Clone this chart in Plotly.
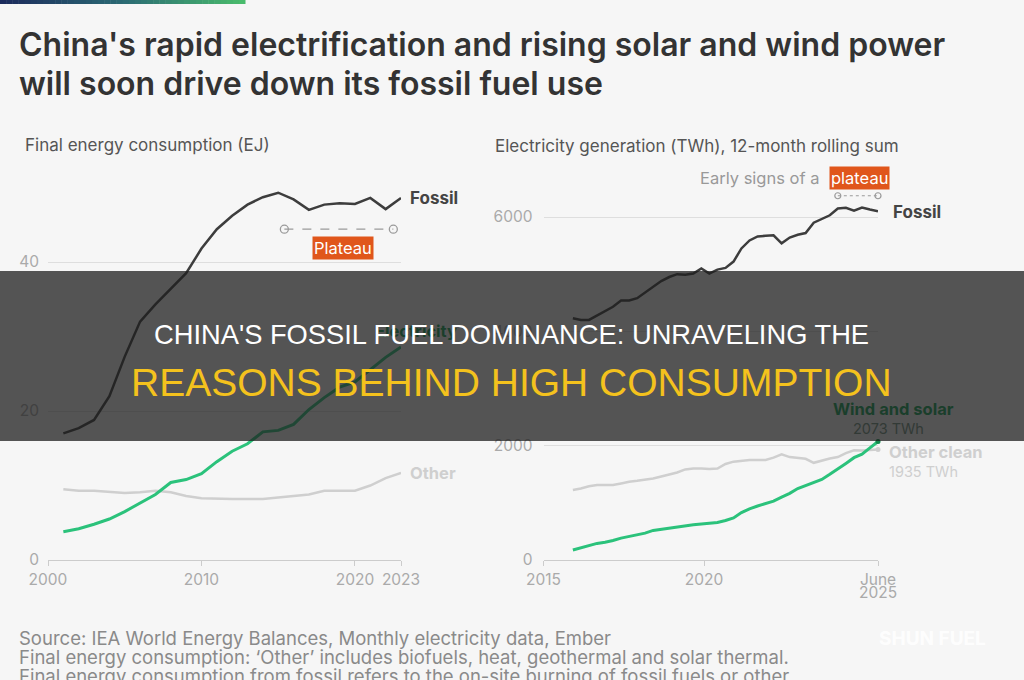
import plotly.graph_objects as go

W, H = 1024, 680
BG = "#f6f6f6"
FONT = "Inter"

# ---------------- Left panel: final energy consumption (EJ) ----------------
years = [2001, 2002, 2003, 2004, 2005, 2006, 2007, 2008, 2009, 2010, 2011, 2012,
         2013, 2014, 2015, 2016, 2017, 2018, 2019, 2020, 2021, 2022, 2023]
fossil_ej = [17.0, 17.7, 18.8, 22.0, 27.3, 32.0, 34.3, 36.4, 38.5, 41.8, 44.4, 46.2,
             47.7, 48.7, 49.3, 48.4, 47.0, 47.7, 47.9, 47.8, 48.6, 47.1, 48.6]
electricity_ej = [3.8, 4.2, 4.8, 5.5, 6.5, 7.6, 8.8, 10.4, 10.8, 11.6, 13.2, 14.6,
                  15.6, 17.2, 17.4, 18.2, 20.2, 21.8, 23.2, 23.9, 25.6, 27.2, 28.6]
other_ej = [9.5, 9.3, 9.3, 9.1, 9.0, 9.1, 9.3, 9.1, 8.6, 8.3, 8.2, 8.2,
            8.2, 8.2, 8.4, 8.6, 8.8, 9.3, 9.3, 9.3, 10.0, 11.0, 11.7]
left_xticks = [2000, 2010, 2020, 2023]
left_yticks = [0, 20, 40]
plateau_left_years = [2015.4, 2022.5]
plateau_left_level = 44.4

# ---------------- Right panel: electricity generation (TWh), 12-month rolling sum ----------------
months = ["2015-12-01",
          "2016-03-01", "2016-06-01", "2016-09-01", "2016-12-01",
          "2017-03-01", "2017-06-01", "2017-09-01", "2017-12-01",
          "2018-03-01", "2018-06-01", "2018-09-01", "2018-12-01",
          "2019-03-01", "2019-06-01", "2019-09-01", "2019-12-01",
          "2020-03-01", "2020-06-01", "2020-09-01", "2020-12-01",
          "2021-03-01", "2021-06-01", "2021-09-01", "2021-12-01",
          "2022-03-01", "2022-06-01", "2022-09-01", "2022-12-01",
          "2023-03-01", "2023-06-01", "2023-09-01", "2023-12-01",
          "2024-03-01", "2024-06-01", "2024-09-01", "2024-12-01",
          "2025-03-01", "2025-06-01"]
fossil_twh = [4230,
              4200, 4200, 4280, 4360,
              4430, 4540, 4540, 4580,
              4680, 4780, 4880, 4950,
              5000, 4990, 5010, 5100,
              5010, 5080, 5110, 5220,
              5450, 5590, 5660, 5670,
              5680, 5540, 5640, 5690,
              5720, 5900, 5970, 6030,
              6150, 6160, 6110, 6165,
              6130, 6100]
wind_solar_twh = [175,
                  215, 262, 290, 312,
                  340, 383, 415, 445,
                  470, 518, 540, 560,
                  575, 605, 618, 630,
                  645, 655, 690, 735,
                  830, 895, 945, 985,
                  1030, 1100, 1165, 1250,
                  1300, 1355, 1410, 1500,
                  1590, 1690, 1790, 1850,
                  1960, 2073]
other_clean_twh = [1224,
                   1250, 1290, 1312, 1312,
                   1312, 1340, 1370, 1385,
                   1400, 1425, 1460, 1490,
                   1530, 1585, 1600, 1600,
                   1590, 1600, 1680, 1720,
                   1740, 1750, 1750, 1750,
                   1790, 1850, 1800, 1790,
                   1770, 1700, 1740, 1775,
                   1800, 1870, 1920, 1915,
                   1925, 1935]
right_xticks = ["2015-01-01", "2020-01-01", "2025-06-01"]
right_xticklabels = ["2015", "2020", "June"]
right_yticks = [0, 2000, 4000, 6000]
plateau_right_months = ["2024-03-01", "2025-06-01"]
plateau_right_level = 6372

# ---------------- styling helpers ----------------
C_FOSSIL = "#3d3d3d"
C_GREEN = "#2bc27b"
C_LABEL_GREEN = "#0c9c52"
C_OTHER = "#cfcfcf"
C_TICK = "#aaaaaa"
C_GRID = "#dedede"
C_ORANGE = "#e0561b"
OVERLAY_RGB = (30, 30, 30)
OVERLAY_A = 0.75
LBL = 16.5


def px_x(p):
    return p / W


def px_y(p):
    return 1 - p / H


def blend(hexcol):
    h = hexcol.lstrip("#")
    r, g, b = int(h[0:2], 16), int(h[2:4], 16), int(h[4:6], 16)
    o = OVERLAY_RGB
    a = OVERLAY_A
    return "rgb(%d,%d,%d)" % (round(a * o[0] + (1 - a) * r),
                              round(a * o[1] + (1 - a) * g),
                              round(a * o[2] + (1 - a) * b))


fig = go.Figure()

# ---- left traces
fig.add_trace(go.Scatter(x=years, y=other_ej, mode="lines",
                         line=dict(color=C_OTHER, width=2.5), xaxis="x", yaxis="y"))
fig.add_trace(go.Scatter(x=years, y=electricity_ej, mode="lines",
                         line=dict(color=C_GREEN, width=3), xaxis="x", yaxis="y"))
fig.add_trace(go.Scatter(x=years, y=fossil_ej, mode="lines",
                         line=dict(color=C_FOSSIL, width=2.5), xaxis="x", yaxis="y"))
fig.add_trace(go.Scatter(x=plateau_left_years, y=[plateau_left_level] * 2, mode="lines+markers",
                         line=dict(color="#9a9a9a", width=1.2, dash="dash"),
                         marker=dict(symbol="circle-open", size=8, color="#9a9a9a",
                                     line=dict(width=1.3)),
                         xaxis="x", yaxis="y", cliponaxis=False))

# ---- right traces
fig.add_trace(go.Scatter(x=months, y=other_clean_twh, mode="lines",
                         line=dict(color=C_OTHER, width=2.5), xaxis="x2", yaxis="y2"))
fig.add_trace(go.Scatter(x=months, y=wind_solar_twh, mode="lines",
                         line=dict(color=C_GREEN, width=3), xaxis="x2", yaxis="y2"))
fig.add_trace(go.Scatter(x=months, y=fossil_twh, mode="lines",
                         line=dict(color=C_FOSSIL, width=2.5), xaxis="x2", yaxis="y2"))
fig.add_trace(go.Scatter(x=[months[-1], months[-1]], y=[other_clean_twh[-1], wind_solar_twh[-1]],
                         mode="markers", marker=dict(size=5, color=[C_OTHER, "#138a4c"]),
                         xaxis="x2", yaxis="y2", cliponaxis=False))
fig.add_trace(go.Scatter(x=plateau_right_months, y=[plateau_right_level] * 2, mode="lines+markers",
                         line=dict(color="#9a9a9a", width=1.2, dash="dot"),
                         marker=dict(symbol="circle-open", size=6, color="#9a9a9a",
                                     line=dict(width=1.2)),
                         xaxis="x2", yaxis="y2", cliponaxis=False))

tickfont = dict(family=FONT, size=15.5, color=C_TICK)

fig.update_layout(
    width=W, height=H,
    margin=dict(l=0, r=0, t=0, b=0, pad=0, autoexpand=False),
    paper_bgcolor=BG, plot_bgcolor=BG,
    showlegend=False,
    font=dict(family=FONT),
    xaxis=dict(domain=[px_x(48), px_x(401)], range=[2000, 2023], tickvals=left_xticks,
               ticktext=[str(v) for v in left_xticks], automargin=False,
               showgrid=False, zeroline=False, showline=True, linecolor="#cccccc", linewidth=1,
               ticks="outside", ticklen=5, tickcolor="#cccccc", tickfont=tickfont,
               anchor="y"),
    yaxis=dict(domain=[px_y(560), px_y(172.6)], range=[0, 52], tickvals=left_yticks,
               automargin=False,
               showgrid=True, gridcolor=C_GRID, gridwidth=1, zeroline=False, showline=False,
               ticks="", tickfont=tickfont, ticklabelstandoff=8, anchor="x"),
    xaxis2=dict(type="date", domain=[px_x(543.5), px_x(878)], range=["2015-01-01", "2025-06-01"],
                tickvals=right_xticks, ticktext=right_xticklabels, automargin=False,
                showgrid=False, zeroline=False, showline=True, linecolor="#cccccc", linewidth=1,
                ticks="outside", ticklen=5, tickcolor="#cccccc", tickfont=tickfont,
                anchor="y2"),
    yaxis2=dict(domain=[px_y(560), px_y(182.7)], range=[0, 6600], tickvals=right_yticks,
                automargin=False,
                showgrid=True, gridcolor=C_GRID, gridwidth=1, zeroline=False, showline=False,
                ticks="", tickfont=tickfont, ticklabelstandoff=10, anchor="x2"),
)

shapes = []
# gradient bar at top
stops = [(0.0, (28, 42, 92)), (0.5, (43, 106, 116)), (1.0, (74, 189, 108))]
n = 40
bar_w = 245
for i in range(n):
    t = (i + 0.5) / n
    for j in range(len(stops) - 1):
        if stops[j][0] <= t <= stops[j + 1][0]:
            f = (t - stops[j][0]) / (stops[j + 1][0] - stops[j][0])
            c = tuple(round(stops[j][1][k] + f * (stops[j + 1][1][k] - stops[j][1][k])) for k in range(3))
            break
    shapes.append(dict(type="rect", xref="paper", yref="paper",
                       x0=px_x(bar_w * i / n), x1=px_x(bar_w * (i + 1) / n + 0.5),
                       y0=px_y(4), y1=px_y(0), line=dict(width=0),
                       fillcolor="rgb(%d,%d,%d)" % c, layer="above"))
# dark banner overlay
shapes.append(dict(type="rect", xref="paper", yref="paper", x0=0, x1=1,
                   y0=px_y(441), y1=px_y(271), line=dict(width=0),
                   fillcolor="rgba(%d,%d,%d,%s)" % (OVERLAY_RGB + (OVERLAY_A,)), layer="above"))
fig.update_layout(shapes=shapes)

ann = []


def paper_text(text, x, y, size, color, xanchor="left", weight=400, family=FONT):
    ann.append(dict(text=text, xref="paper", yref="paper", x=px_x(x), y=px_y(y),
                    xanchor=xanchor, yanchor="middle", showarrow=False,
                    font=dict(family=family, size=size, color=color, weight=weight)))


# titles
paper_text("China's rapid electrification and rising solar and wind power", 17, 45, 32, "#333333", weight=600)
paper_text("will soon drive down its fossil fuel use", 17, 83, 32, "#333333", weight=600)
paper_text("Final energy consumption (EJ)", 23, 145, 17, "#555555")
paper_text("Electricity generation (TWh), 12-month rolling sum", 493, 146, 17, "#555555")

# left series labels
ann.append(dict(text="Fossil", xref="x", yref="y", x=years[-1], y=fossil_ej[-1], xanchor="left",
                xshift=7, yanchor="middle", showarrow=False,
                font=dict(family=FONT, size=17, color="#444444", weight=700)))
ann.append(dict(text="Other", xref="x", yref="y", x=years[-1], y=other_ej[-1], xanchor="left",
                xshift=7, yanchor="middle", showarrow=False,
                font=dict(family=FONT, size=LBL, color=C_OTHER, weight=700)))
ann.append(dict(text="Electricity", xref="x", yref="y", x=years[-1], y=electricity_ej[-1],
                xanchor="center", xshift=15, yshift=16, yanchor="middle", showarrow=False,
                font=dict(family=FONT, size=LBL, color=blend(C_LABEL_GREEN), weight=700)))
ann.append(dict(text="Plateau", xref="x", yref="y",
                x=(plateau_left_years[0] + plateau_left_years[1]) / 2, y=plateau_left_level,
                xanchor="center", yanchor="middle", xshift=4, yshift=-19, showarrow=False,
                bgcolor=C_ORANGE, borderpad=1,
                font=dict(family=FONT, size=LBL, color="white")))

# right series labels
ann.append(dict(text="Fossil", xref="x2", yref="y2", x=months[-1], y=fossil_twh[-1], xanchor="left",
                xshift=13, yshift=-1, yanchor="middle", showarrow=False,
                font=dict(family=FONT, size=17, color="#444444", weight=700)))
ann.append(dict(text="Wind and solar", xref="x2", yref="y2", x=months[-1], y=wind_solar_twh[-1],
                xanchor="center", xshift=15, yshift=32, yanchor="middle", showarrow=False,
                font=dict(family=FONT, size=LBL, color=blend(C_LABEL_GREEN), weight=700)))
ann.append(dict(text="%d TWh" % wind_solar_twh[-1], xref="x2", yref="y2", x=months[-1],
                y=wind_solar_twh[-1], xanchor="center", xshift=10, yshift=13, yanchor="middle",
                showarrow=False, font=dict(family=FONT, size=14.5, color=blend("#6f8f7d"))))
ann.append(dict(text="Other clean", xref="x2", yref="y2", x=months[-1], y=other_clean_twh[-1],
                xanchor="left", xshift=9, yshift=-3, yanchor="middle", showarrow=False,
                font=dict(family=FONT, size=LBL, color=C_OTHER, weight=700)))
ann.append(dict(text="%d TWh" % other_clean_twh[-1], xref="x2", yref="y2", x=months[-1],
                y=other_clean_twh[-1], xanchor="left", xshift=9, yshift=-22, yanchor="middle",
                showarrow=False, font=dict(family=FONT, size=14.5, color=C_OTHER)))
ann.append(dict(text="plateau", xref="x2", yref="y2", x="2024-10-15", y=plateau_right_level,
                xanchor="center", yanchor="middle", xshift=2, yshift=18, showarrow=False,
                bgcolor=C_ORANGE, borderpad=1,
                font=dict(family=FONT, size=LBL, color="white")))
ann.append(dict(text="Early signs of a", xref="x2", yref="y2", x="2024-10-15", y=plateau_right_level,
                xanchor="right", yanchor="middle", xshift=-37, yshift=18, showarrow=False,
                font=dict(family=FONT, size=LBL, color="#999999")))
ann.append(dict(text="2025", xref="x2", yref="paper", x=right_xticks[-1], y=px_y(592),
                xanchor="center", yanchor="middle", showarrow=False, font=tickfont))

# banner text
paper_text("CHINA'S FOSSIL FUEL DOMINANCE: UNRAVELING THE", 511, 334, 27.3, "#ffffff",
           xanchor="center", family="Liberation Sans")
paper_text("REASONS BEHIND HIGH CONSUMPTION", 511, 382, 39, "#f4c21d",
           xanchor="center", family="Liberation Sans")

# footer
paper_text("Source: IEA World Energy Balances, Monthly electricity data, Ember", 17, 638, 18.5, "#8a8a8a")
paper_text("Final energy consumption: \u2018Other\u2019 includes biofuels, heat, geothermal and solar thermal.",
           17, 657, 18.5, "#8a8a8a")
paper_text("Final energy consumption from fossil refers to the on-site burning of fossil fuels or other",
           17, 676, 18.5, "#8a8a8a")
paper_text("SHUN FUEL", 932, 638, 19, "rgba(255,255,255,0.9)", xanchor="center", weight=700)

fig.update_layout(annotations=ann)
fig.write_html("out.html")
